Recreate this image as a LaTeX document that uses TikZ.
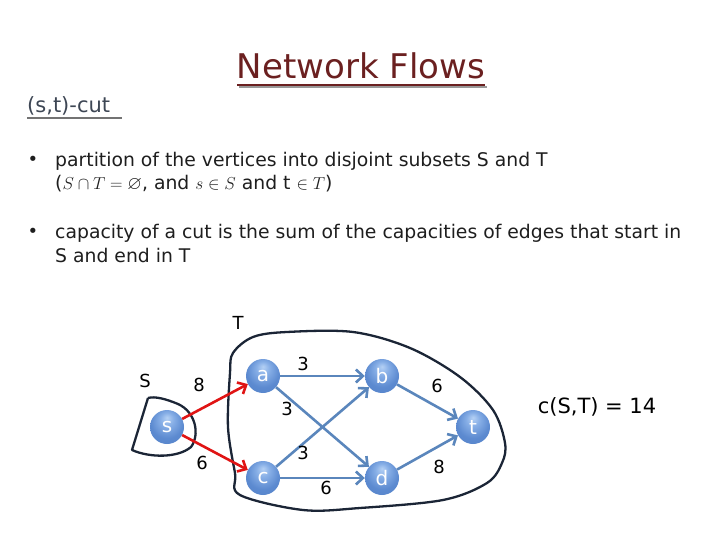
\documentclass[tikz,border=0pt]{standalone}
\usepackage{amsmath,amssymb}
\usepackage{fontspec}
\setmainfont{DejaVu Sans}
\usepackage{tikz}
\usetikzlibrary{arrows.meta}

\definecolor{titlered}{HTML}{6B2020}
\definecolor{edgeblue}{HTML}{5A86BC}
\definecolor{flowred}{HTML}{E01414}
\definecolor{cutnavy}{HTML}{1B2536}
\definecolor{bodytext}{HTML}{1E1E1E}
\definecolor{ballhi}{HTML}{B4D0F4}
\definecolor{ballmid}{HTML}{86AEE6}
\definecolor{balledge}{HTML}{5C8AD0}
\definecolor{ballrim}{HTML}{4F7CC2}

\pgfdeclareradialshading{vertexball}{\pgfpoint{0bp}{14bp}}{%
  color(0bp)=(ballhi); color(10bp)=(ballmid); color(24bp)=(balledge); color(50bp)=(ballrim)}

\tikzset{
  vertex/.style={circle,shading=vertexball,minimum size=34pt,inner sep=0pt,
    text=white,font=\fontsize{20}{20}\selectfont},
  edge/.style={->,line width=2.6pt,draw=edgeblue},
  cutedge/.style={->,line width=2.6pt,draw=flowred},
  cutline/.style={line width=2.3pt,draw=cutnavy,line join=round},
  weight/.style={font=\fontsize{18}{18}\selectfont,text=black},
}

\begin{document}
\begin{tikzpicture}[x=1pt,y=-1pt,>={Straight Barb[length=7pt,width=13pt]}]
	\useasboundingbox (0,0) rectangle (720,540);
	
	% title and heading
	\node[font=\fontsize{34}{34}\selectfont,text=titlered] (title) at (361,66) {Network Flows};
	\draw[line width=2.5pt,black!40] (239,87) -- (487,87);
	\draw[line width=2.5pt,titlered] (237,85) -- (485,85);
	\node[anchor=base west,font=\fontsize{21}{21}\selectfont,text=cutnavy!85,inner sep=0pt] (head) at (27,113) {(s,t)-cut};
	\draw[line width=1.6pt,black!55] (27,118) -- (122,118);
	
	% bullet text
	\node[text=bodytext,font=\fontsize{18}{18}\selectfont] (b1) at (33,161) {\textbullet};
	\node[text=bodytext,font=\fontsize{18}{18}\selectfont] (b2) at (33,233) {\textbullet};
	\begin{scope}[every node/.style={anchor=base west,inner sep=0pt,text=bodytext,font=\fontsize{18.8}{18.8}\selectfont}]
		\node (l1) at (55,167) {partition of the vertices into disjoint subsets S and T};
		\node (l2) at (55,190) {($S \cap T = \varnothing$, and $s \in S$ and t $\in T$)};
		\node (l3) at (55,239) {capacity of a cut is the sum of the capacities of edges that start in};
		\node (l4) at (55,262) {S and end in T};
	\end{scope}
	
	% cut sets
	\draw[cutline] (148,398) -- (132,450) .. controls (150,458) and (178,458) .. (191,447)
		.. controls (200,435) and (196,412) .. (178,404) .. controls (166,399) and (155,396) .. (148,398);
	\draw[cutline] plot[smooth cycle,tension=0.55] coordinates {(233,353) (253,337) (287,332) (353,332)
		(410,348) (460,377) (493,410) (505,443) (502,463) (487,483) (443,500) (360,508) (303,510)
		(240,495) (235,473) (228,427) (230,373)};
	\node[weight] (S) at (145,381) {S};
	\node[weight] (T) at (238,323) {T};
	
	% vertices
	\node[vertex] (s) at (167,427) {s};
	\node[vertex] (a) at (263,376) {a};
	\node[vertex] (b) at (382,376) {b};
	\node[vertex] (c) at (263,478) {c};
	\node[vertex] (d) at (382,478) {d};
	\node[vertex] (t) at (473,427) {t};
	
	% edges
	\draw[cutedge] (s) -- (a);
	\draw[cutedge] (s) -- (c);
	\draw[edge] (a) -- (b);
	\draw[edge] (a) -- (d);
	\draw[edge] (c) -- (b);
	\draw[edge] (c) -- (d);
	\draw[edge] (b) -- (t);
	\draw[edge] (d) -- (t);
	
	% capacities
	\node[weight] (wsa) at (199,385) {8};
	\node[weight] (wsc) at (202,463) {6};
	\node[weight] (wab) at (303,364) {3};
	\node[weight] (wad) at (287,409) {3};
	\node[weight] (wcb) at (303,453) {3};
	\node[weight] (wcd) at (326,488) {6};
	\node[weight] (wbt) at (437,386) {6};
	\node[weight] (wdt) at (439,467) {8};
	
	\node[font=\fontsize{21}{21}\selectfont] (total) at (597,407) {c(S,T) = 14};
	
\end{tikzpicture}
\end{document}
